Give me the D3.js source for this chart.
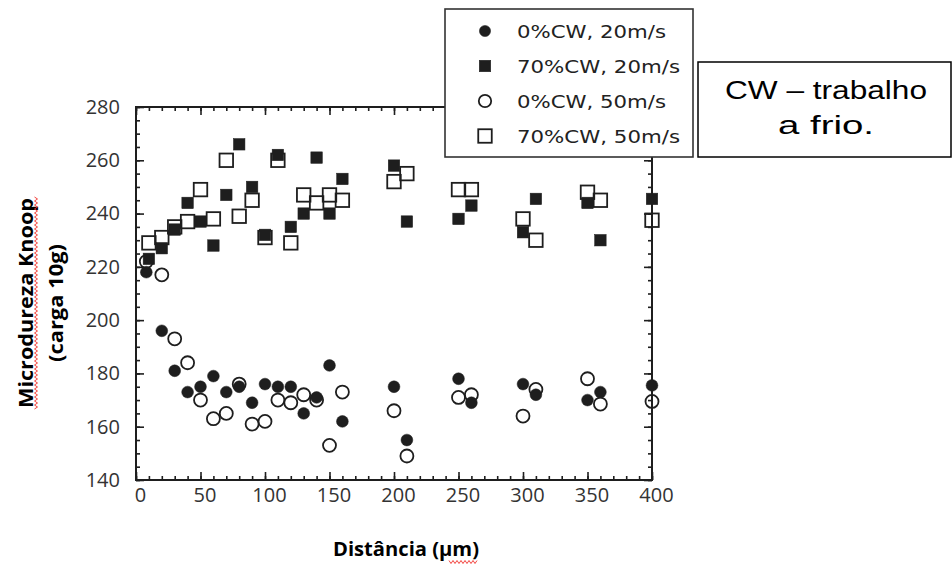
<!DOCTYPE html>
<html>
<head>
<meta charset="utf-8">
<script src="https://cdn.jsdelivr.net/npm/d3@7"></script>
<style>
  body { margin: 0; background: #fff; }
</style>
</head>
<body>
<div id="chart"></div>
<script>
// Dados: [distância (µm), microdureza Knoop]
const xMajor = [0, 50, 100, 150, 200, 250, 300, 350, 400];
const yMajor = [140, 160, 180, 200, 220, 240, 260, 280];
const legendLabels = ["0%CW, 20m/s", "70%CW, 20m/s", "0%CW, 50m/s", "70%CW, 50m/s"];

const cw0v20 = [[8,218],[20,196],[30,181],[40,173],[50,175],[60,179],[70,173],[80,175],[90,169],[100,176],
  [110,175],[120,175],[130,165],[140,171],[150,183],[160,162],[200,175],[210,155],[250,178],[260,169],
  [300,176],[310,172],[350,170],[360,173],[400,175.5]];
const cw70v20 = [[10,223],[20,227],[30,234],[40,244],[50,237],[60,228],[70,247],[80,266],[90,250],[100,232],
  [110,262],[120,235],[130,240],[140,261],[150,240],[160,253],[200,258],[210,237],[250,238],[260,243],
  [300,233],[310,245.5],[350,244],[360,230],[400,245.5]];
const cw0v50 = [[8,222],[20,217],[30,193],[40,184],[50,170],[60,163],[70,165],[80,176],[90,161],[100,162],
  [110,170],[120,169],[130,172],[140,170],[150,153],[160,173],[200,166],[210,149],[250,171],[260,172],
  [300,164],[310,174],[350,178],[360,168.5],[400,169.5]];
const cw70v50 = [[10,229],[20,231],[30,235],[40,237],[50,249],[60,238],[70,260],[80,239],[90,245],[100,231],
  [110,260],[120,229],[130,247],[140,244],[150,247],[160,245],[200,252],[210,255],[250,249],[260,249],
  [300,238],[310,230],[350,248],[360,245],[400,237.5]];

const W = 952, H = 566;
const svg = d3.select("#chart").append("svg")
  .attr("width", W).attr("height", H)
  .style("font-family", "'Open Sans', sans-serif");

const x = d3.scaleLinear().domain([0, 400]).range([136, 652]);
const y = d3.scaleLinear().domain([140, 280]).range([480, 107]);

const ink = "#1e1e1e";

// moldura
svg.append("rect")
  .attr("x", x(0)).attr("y", y(280))
  .attr("width", x(400) - x(0)).attr("height", y(140) - y(280))
  .attr("fill", "none").attr("stroke", ink).attr("stroke-width", 2);

function styleAxis(g) {
  g.select(".domain").remove();
  g.selectAll(".tick line").attr("stroke", ink).attr("stroke-width", 1.6);
}

// eixos: marcas maiores e menores, todas para dentro
const xMinor = d3.range(0, 401, 10), yMinor = d3.range(140, 281, 5);

svg.append("g").attr("transform", `translate(0,${y(140)})`)
  .call(d3.axisBottom(x).tickValues(xMinor).tickSize(-4).tickFormat("")).call(styleAxis);
const xAxis = svg.append("g").attr("transform", `translate(0,${y(140)})`)
  .call(d3.axisBottom(x).tickValues(xMajor).tickSize(-8).tickPadding(8).tickFormat(d3.format("d")))
  .call(styleAxis);
xAxis.selectAll("text").attr("dx", 4).attr("fill", "#333").style("font-size", "20px")
  .style("font-family", "'Open Sans', sans-serif");

svg.append("g").attr("transform", `translate(0,${y(280)})`)
  .call(d3.axisTop(x).tickValues(xMinor).tickSize(-4).tickFormat("")).call(styleAxis);
svg.append("g").attr("transform", `translate(0,${y(280)})`)
  .call(d3.axisTop(x).tickValues(xMajor).tickSize(-8).tickFormat("")).call(styleAxis);

svg.append("g").attr("transform", `translate(${x(0)},0)`)
  .call(d3.axisLeft(y).tickValues(yMinor).tickSize(-4).tickFormat("")).call(styleAxis);
const yAxis = svg.append("g").attr("transform", `translate(${x(0)},0)`)
  .call(d3.axisLeft(y).tickValues(yMajor).tickSize(-8).tickPadding(16).tickFormat(d3.format("d")))
  .call(styleAxis);
yAxis.selectAll("text").attr("fill", "#333").style("font-size", "20px")
  .style("font-family", "'Open Sans', sans-serif");

svg.append("g").attr("transform", `translate(${x(400)},0)`)
  .call(d3.axisRight(y).tickValues(yMinor).tickSize(-4).tickFormat("")).call(styleAxis);
svg.append("g").attr("transform", `translate(${x(400)},0)`)
  .call(d3.axisRight(y).tickValues(yMajor).tickSize(-8).tickFormat("")).call(styleAxis);

// marcadores
const markers = [
  { data: cw0v20, shape: "circle", filled: true },
  { data: cw70v20, shape: "square", filled: true },
  { data: cw0v50, shape: "circle", filled: false },
  { data: cw70v50, shape: "square", filled: false }
];

function drawMarker(sel, shape, filled) {
  if (shape === "circle") {
    sel.append("circle")
      .attr("r", filled ? 5.9 : 6.5)
      .attr("fill", filled ? ink : "none")
      .attr("stroke", ink).attr("stroke-width", filled ? 0.5 : 1.8);
  } else {
    const s = filled ? 11.5 : 13.5;
    sel.append("rect")
      .attr("x", -s / 2).attr("y", -s / 2).attr("width", s).attr("height", s)
      .attr("fill", filled ? ink : "none")
      .attr("stroke", ink).attr("stroke-width", filled ? 0.5 : 1.8);
  }
}

// abertos primeiro, cheios por cima
[2, 3, 0, 1].forEach(i => {
  const m = markers[i];
  svg.append("g").selectAll("g")
    .data(m.data)
    .join("g")
      .attr("transform", d => `translate(${x(d[0])},${y(d[1])})`)
      .each(function() { drawMarker(d3.select(this), m.shape, m.filled); });
});

// legenda
const legend = svg.append("g");
legend.append("rect")
  .attr("x", 445).attr("y", 9).attr("width", 248).attr("height", 148)
  .attr("fill", "#fff").attr("stroke", "#333").attr("stroke-width", 1.6);

const legendItem = legend.selectAll(".legend-item")
  .data(legendLabels)
  .join("g")
    .attr("class", "legend-item")
    .attr("transform", (d, i) => `translate(485,${31 + i * 35})`);
legendItem.each(function(d, i) { drawMarker(d3.select(this), markers[i].shape, markers[i].filled); });
legendItem.select("circle").attr("r", function() { return +d3.select(this).attr("r") - 0.3; });
legendItem.append("text")
  .attr("x", 32).attr("y", 6.5)
  .attr("fill", "#222")
  .attr("textLength", (d, i) => i % 2 ? 163 : 149)
  .attr("lengthAdjust", "spacingAndGlyphs")
  .style("font-family", "'DejaVu Sans', sans-serif")
  .style("font-size", "18px")
  .text(d => d);

// caixa de nota
const note = svg.append("g");
note.append("rect")
  .attr("x", 698).attr("y", 62).attr("width", 253).attr("height", 95)
  .attr("fill", "#fff").attr("stroke", "#000").attr("stroke-width", 1.5);
note.append("text")
  .attr("x", 826).attr("y", 99).attr("text-anchor", "middle")
  .attr("textLength", 202).attr("lengthAdjust", "spacingAndGlyphs")
  .style("font-family", "'Liberation Sans', Arial, sans-serif").style("font-size", "26px")
  .text("CW – trabalho");
note.append("text")
  .attr("x", 826).attr("y", 134).attr("text-anchor", "middle")
  .attr("textLength", 96).attr("lengthAdjust", "spacingAndGlyphs")
  .style("font-family", "'Liberation Sans', Arial, sans-serif").style("font-size", "26px")
  .text("a frio.");

// títulos dos eixos
svg.append("text")
  .attr("transform", "translate(33,303) rotate(-90)")
  .attr("text-anchor", "middle")
  .attr("textLength", 210).attr("lengthAdjust", "spacingAndGlyphs")
  .style("font-weight", "bold").style("font-size", "19px")
  .text("Microdureza Knoop");
svg.append("text")
  .attr("transform", "translate(63,303) rotate(-90)")
  .attr("text-anchor", "middle")
  .attr("textLength", 118).attr("lengthAdjust", "spacingAndGlyphs")
  .style("font-weight", "bold").style("font-size", "19px")
  .text("(carga 10g)");
svg.append("text")
  .attr("x", 406).attr("y", 556).attr("text-anchor", "middle")
  .attr("textLength", 146).attr("lengthAdjust", "spacingAndGlyphs")
  .style("font-weight", "bold").style("font-size", "19px")
  .text("Distância (µm)");

// sublinhado ondulado do corretor ortográfico
function wavy(x0, y0, len, vertical) {
  const pts = [];
  for (let t = 0; t <= len; t += 2) {
    const off = (Math.round(t / 2) % 2) ? 1.5 : -1.5;
    pts.push(vertical ? [x0 + off, y0 - t] : [x0 + t, y0 + off]);
  }
  return d3.line()(pts);
}
svg.append("path").attr("d", wavy(36, 409, 212, true))
  .attr("fill", "none").attr("stroke", "#f0302a").attr("stroke-width", 0.9);
svg.append("path").attr("d", wavy(449, 562, 28, false))
  .attr("fill", "none").attr("stroke", "#f0302a").attr("stroke-width", 0.9);
</script>
</body>
</html>
